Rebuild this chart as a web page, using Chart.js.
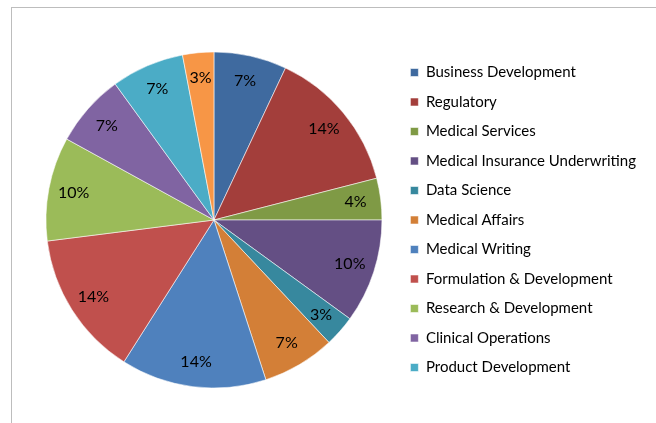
<!DOCTYPE html>
<html>
<head>
<meta charset="utf-8">
<script src="https://cdn.jsdelivr.net/npm/chart.js@4/dist/chart.umd.min.js"></script>
<style>
  html, body { margin: 0; padding: 0; background: #fff; overflow: hidden; }
  #frame { position: absolute; left: 11px; top: 7px; width: 800px; height: 600px; border: 1px solid #bdbdbd; box-sizing: border-box; }
  #wrap { position: absolute; left: 0; top: 0; width: 656px; height: 423px; }
</style>
</head>
<body>
<div id="frame"></div>
<div id="wrap"><canvas id="c" width="656" height="423"></canvas></div>
<script>
const categories = [
  "Business Development", "Regulatory", "Medical Services",
  "Medical Insurance Underwriting", "Data Science", "Medical Affairs",
  "Medical Writing", "Formulation & Development", "Research & Development",
  "Clinical Operations", "Product Development", "Other"
];
const percentValues = [7, 14, 4, 10, 3, 7, 14, 14, 10, 7, 7, 3];
const sliceColors = [
  "#3F6A9F", "#A33E3B", "#7F9A45", "#644F84", "#37889E", "#D37F37",
  "#4F81BD", "#C0504D", "#9BBB59", "#8064A2", "#4BACC6", "#F79646"
];
const legendHidden = ["Other"];

const pctLabels = {
  id: 'pctLabels',
  afterDatasetsDraw(chart) {
    const ctx = chart.ctx;
    const meta = chart.getDatasetMeta(0);
    const data = chart.data.datasets[0].data;
    ctx.save();
    ctx.font = '16px Lato, "Open Sans", sans-serif';
    ctx.fillStyle = '#000';
    ctx.textAlign = 'center';
    ctx.textBaseline = 'middle';
    meta.data.forEach((arc, i) => {
      const p = arc.getProps(['x', 'y', 'startAngle', 'endAngle', 'outerRadius'], true);
      const mid = (p.startAngle + p.endAngle) / 2;
      const r = p.outerRadius * 0.85;
      ctx.fillText(data[i] + '%', p.x + Math.cos(mid) * r, p.y + Math.sin(mid) * r);
    });
    ctx.restore();
  }
};

new Chart(document.getElementById('c'), {
  type: 'pie',
  data: {
    labels: categories,
    datasets: [{
      data: percentValues,
      backgroundColor: sliceColors,
      borderColor: 'rgba(255,255,255,0.55)',
      borderWidth: 1
    }]
  },
  options: {
    responsive: false,
    animation: false,
    radius: 168,
    layout: { padding: { left: 32, top: 45, bottom: 28, right: 10 } },
    plugins: {
      tooltip: { enabled: false },
      legend: {
        position: 'right',
        align: 'center',
        labels: {
          boxWidth: 8,
          boxHeight: 8,
          padding: 14.5,
          color: '#000',
          font: { family: 'Lato, "Open Sans", sans-serif', size: 15 },
          filter: (item) => !legendHidden.includes(item.text)
        }
      }
    }
  },
  plugins: [pctLabels]
});
</script>
</body>
</html>
